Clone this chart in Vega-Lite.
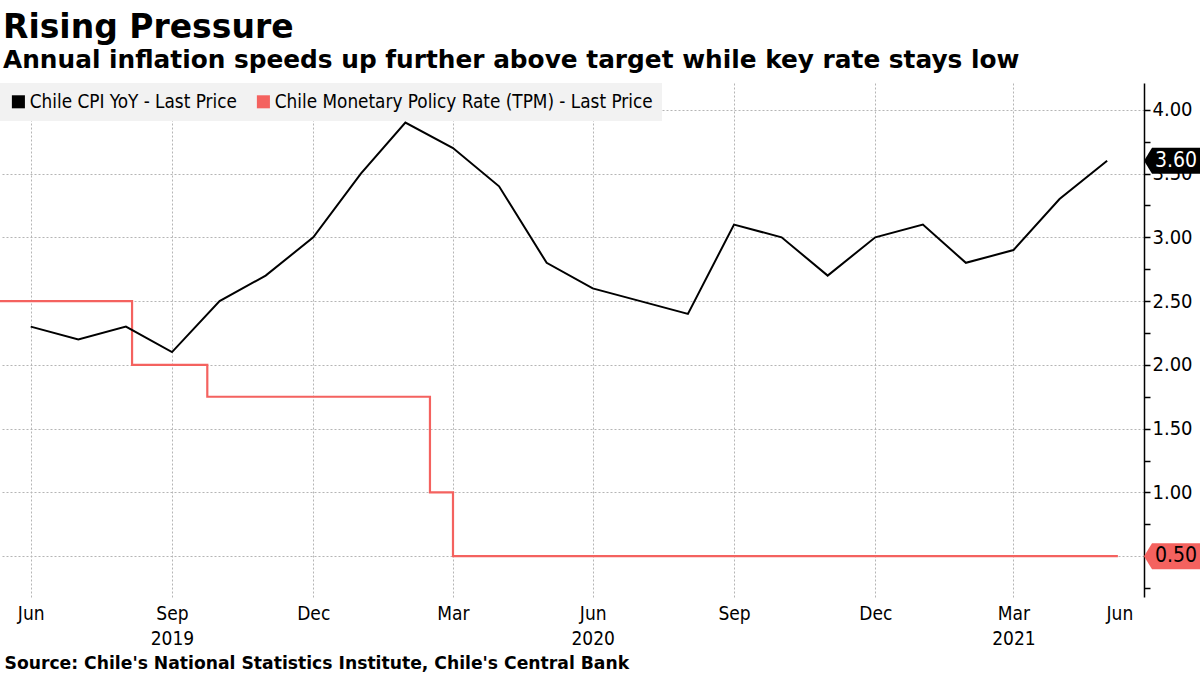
{
  "$schema": "https://vega.github.io/schema/vega-lite/v6.json",
  "width": 1144,
  "height": 514,
  "autosize": {"type": "none"},
  "padding": {"left": 0, "top": 83, "right": 56, "bottom": 78},
  "background": "white",
  "title": {
    "text": "Rising Pressure",
    "subtitle": "Annual inflation speeds up further above target while key rate stays low",
    "anchor": "start",
    "frame": "group",
    "font": "DejaVu Sans",
    "fontSize": 33,
    "fontWeight": "bold",
    "color": "#000000",
    "subtitleFont": "DejaVu Sans",
    "subtitleFontSize": 24.8,
    "subtitleFontWeight": "bold",
    "subtitleColor": "#000000",
    "subtitlePadding": 3,
    "offset": 10,
    "dx": 3
  },
  "datasets": {
    "cpi": [
      {"date": "2019-06-30T00:00", "value": 2.3, "series": "Chile CPI YoY - Last Price"},
      {"date": "2019-07-31T00:00", "value": 2.2, "series": "Chile CPI YoY - Last Price"},
      {"date": "2019-08-31T00:00", "value": 2.3, "series": "Chile CPI YoY - Last Price"},
      {"date": "2019-09-30T00:00", "value": 2.1, "series": "Chile CPI YoY - Last Price"},
      {"date": "2019-10-31T00:00", "value": 2.5, "series": "Chile CPI YoY - Last Price"},
      {"date": "2019-11-30T00:00", "value": 2.7, "series": "Chile CPI YoY - Last Price"},
      {"date": "2019-12-31T00:00", "value": 3.0, "series": "Chile CPI YoY - Last Price"},
      {"date": "2020-01-31T00:00", "value": 3.5, "series": "Chile CPI YoY - Last Price"},
      {"date": "2020-02-29T00:00", "value": 3.9, "series": "Chile CPI YoY - Last Price"},
      {"date": "2020-03-31T00:00", "value": 3.7, "series": "Chile CPI YoY - Last Price"},
      {"date": "2020-04-30T00:00", "value": 3.4, "series": "Chile CPI YoY - Last Price"},
      {"date": "2020-05-31T00:00", "value": 2.8, "series": "Chile CPI YoY - Last Price"},
      {"date": "2020-06-30T00:00", "value": 2.6, "series": "Chile CPI YoY - Last Price"},
      {"date": "2020-07-31T00:00", "value": 2.5, "series": "Chile CPI YoY - Last Price"},
      {"date": "2020-08-31T00:00", "value": 2.4, "series": "Chile CPI YoY - Last Price"},
      {"date": "2020-09-30T00:00", "value": 3.1, "series": "Chile CPI YoY - Last Price"},
      {"date": "2020-10-31T00:00", "value": 3.0, "series": "Chile CPI YoY - Last Price"},
      {"date": "2020-11-30T00:00", "value": 2.7, "series": "Chile CPI YoY - Last Price"},
      {"date": "2020-12-31T00:00", "value": 3.0, "series": "Chile CPI YoY - Last Price"},
      {"date": "2021-01-31T00:00", "value": 3.1, "series": "Chile CPI YoY - Last Price"},
      {"date": "2021-02-28T00:00", "value": 2.8, "series": "Chile CPI YoY - Last Price"},
      {"date": "2021-03-31T00:00", "value": 2.9, "series": "Chile CPI YoY - Last Price"},
      {"date": "2021-04-30T00:00", "value": 3.3, "series": "Chile CPI YoY - Last Price"},
      {"date": "2021-05-31T00:00", "value": 3.6, "series": "Chile CPI YoY - Last Price"}
    ],
    "tpm": [
      {"date": "2019-06-10T00:00", "value": 2.5, "series": "Chile Monetary Policy Rate (TPM) - Last Price"},
      {"date": "2019-09-04T00:00", "value": 2.0, "series": "Chile Monetary Policy Rate (TPM) - Last Price"},
      {"date": "2019-10-23T00:00", "value": 1.75, "series": "Chile Monetary Policy Rate (TPM) - Last Price"},
      {"date": "2020-03-16T00:00", "value": 1.0, "series": "Chile Monetary Policy Rate (TPM) - Last Price"},
      {"date": "2020-03-31T00:00", "value": 0.5, "series": "Chile Monetary Policy Rate (TPM) - Last Price"},
      {"date": "2021-06-07T00:00", "value": 0.5, "series": "Chile Monetary Policy Rate (TPM) - Last Price"}
    ],
    "last": [
      {"date": "2021-06-24T00:00", "series": "Chile CPI YoY - Last Price", "value": 3.6, "label": "3.60"},
      {"date": "2021-06-24T00:00", "series": "Chile Monetary Policy Rate (TPM) - Last Price", "value": 0.5, "label": "0.50"}
    ]
  },
  "config": {
    "view": {"stroke": null},
    "axis": {"zindex": 0}
  },
  "encoding": {
    "x": {
      "field": "date",
      "type": "temporal",
      "scale": {"domain": [{"year": 2019, "month": 6, "date": 10}, {"year": 2021, "month": 6, "date": 24}]},
      "axis": {
        "values": [
          {"year": 2019, "month": 6, "date": 30},
          {"year": 2019, "month": 9, "date": 30},
          {"year": 2019, "month": 12, "date": 31},
          {"year": 2020, "month": 3, "date": 31},
          {"year": 2020, "month": 6, "date": 30},
          {"year": 2020, "month": 9, "date": 30},
          {"year": 2020, "month": 12, "date": 31},
          {"year": 2021, "month": 3, "date": 31},
          {"year": 2021, "month": 6, "date": 8}
        ],
        "labelExpr": "timeFormat(datum.value,'%Y-%m') == '2019-09' ? ['Sep','2019'] : timeFormat(datum.value,'%Y-%m') == '2020-06' ? ['Jun','2020'] : timeFormat(datum.value,'%Y-%m') == '2021-03' ? ['Mar','2021'] : timeFormat(datum.value,'%b')",
        "labelFont": "DejaVu Sans Condensed",
        "labelFontSize": 19,
        "labelColor": "#000000",
        "labelLineHeight": 25,
        "labelPadding": 7,
        "labelOverlap": false,
        "labelBound": false,
        "labelFlush": false,
        "ticks": false,
        "domain": false,
        "grid": true,
        "gridColor": "#b5b5b5",
        "gridDash": [2, 2],
        "gridWidth": 1,
        "gridOpacity": {"condition": {"test": "datum.value > datetime(2021, 4, 15)", "value": 0}, "value": 1},
        "title": "Source: Chile's National Statistics Institute, Chile's Central Bank",
        "titleFont": "DejaVu Sans",
        "titleFontSize": 17.2,
        "titleFontWeight": "bold",
        "titleColor": "#000000",
        "titleAnchor": "start",
        "titleAlign": "left",
        "titleBaseline": "middle",
        "titleX": 4,
        "titleY": 66
      }
    },
    "y": {
      "field": "value",
      "type": "quantitative",
      "scale": {"domain": [0.18, 4.21], "nice": false, "zero": false},
      "axis": {
        "orient": "right",
        "values": [0.25, 0.5, 0.75, 1.0, 1.25, 1.5, 1.75, 2.0, 2.25, 2.5, 2.75, 3.0, 3.25, 3.5, 3.75, 4.0],
        "labelExpr": "round(datum.value * 4) % 2 == 0 && datum.value != 0.5 ? format(datum.value, '.2f') : ''",
        "labelFont": "DejaVu Sans Condensed",
        "labelFontSize": 20,
        "labelColor": "#000000",
        "labelPadding": 2,
        "labelOverlap": false,
        "ticks": true,
        "tickSize": 6,
        "tickWidth": 1.5,
        "tickColor": "#000000",
        "domain": true,
        "domainColor": "#000000",
        "domainWidth": 1.5,
        "grid": true,
        "gridColor": "#b5b5b5",
        "gridDash": [2, 2],
        "gridWidth": 1,
        "gridOpacity": {"condition": {"test": "round(datum.value * 4) % 2 == 1", "value": 0}, "value": 1},
        "title": null
      }
    }
  },
  "layer": [
    {
      "data": {"name": "tpm"},
      "mark": {"type": "line", "interpolate": "step-after", "strokeWidth": 2.2},
      "encoding": {
        "color": {
          "field": "series",
          "type": "nominal",
          "scale": {
            "domain": ["Chile CPI YoY - Last Price", "Chile Monetary Policy Rate (TPM) - Last Price"],
            "range": ["#000000", "#f4625f"]
          },
          "legend": {
            "orient": "top-left",
            "direction": "horizontal",
            "title": null,
            "symbolType": "square",
            "symbolSize": 170,
            "symbolStrokeWidth": 0,
            "labelFont": "DejaVu Sans Condensed",
            "labelFontSize": 18.8,
            "labelColor": "#000000",
            "labelLimit": 0,
            "labelOffset": 2,
            "columnPadding": 17,
            "fillColor": "#f2f2f2",
            "padding": 9,
            "offset": 0,
            "encode": {"symbols": {"update": {"fill": {"scale": "color", "field": "value"}, "strokeWidth": {"value": 0}, "opacity": {"value": 1}}}}
          }
        }
      }
    },
    {
      "data": {"name": "cpi"},
      "mark": {"type": "line", "strokeWidth": 2},
      "encoding": {
        "color": {"field": "series", "type": "nominal"}
      }
    },
    {
      "data": {"name": "last"},
      "mark": {
        "type": "point",
        "filled": true,
        "opacity": 1,
        "size": 2500,
        "shape": "M0,0L0.32,-0.52L2.4,-0.52L2.4,0.52L0.32,0.52Z",
        "clip": false
      },
      "encoding": {
        "color": {"field": "series", "type": "nominal"}
      }
    },
    {
      "data": {"name": "last"},
      "mark": {
        "type": "text",
        "dx": 32,
        "align": "center",
        "baseline": "middle",
        "font": "DejaVu Sans Condensed",
        "fontSize": 21,
        "clip": false
      },
      "encoding": {
        "text": {"field": "label"},
        "color": {"condition": {"test": "datum.value > 1", "value": "#ffffff"}, "value": "#000000"}
      }
    }
  ]
}
